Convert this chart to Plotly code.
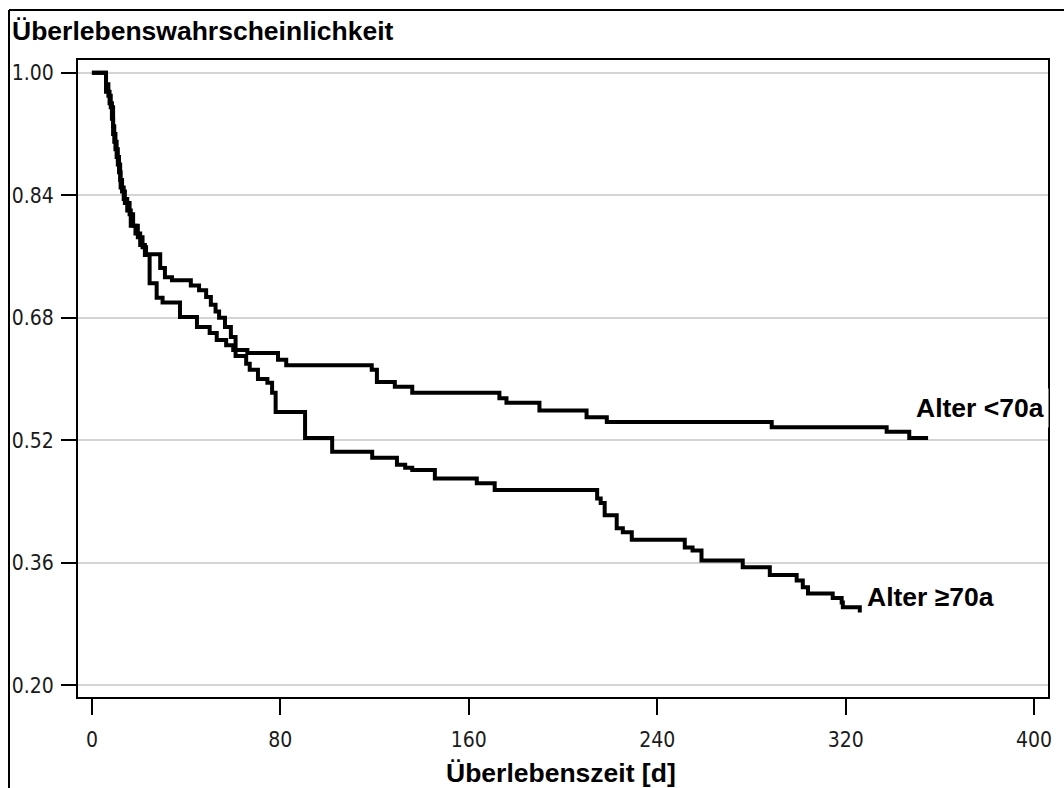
import plotly.graph_objects as go

# Kaplan-Meier step data (time in days, survival probability)
t_lt70 = [0, 6, 7, 8, 9, 9.5, 10.5, 11.5, 12.2, 13.5, 15, 16.5, 18.5, 20.5, 22.5, 24.5, 27.5, 30,
          37.4, 44.6, 50, 53, 57, 60, 66, 79, 82.5, 118.8, 121, 128.6, 136, 173, 176, 190, 210,
          218.6, 288.6, 337.4, 347, 355]
s_lt70 = [1.0, 0.985, 0.97, 0.955, 0.93, 0.91, 0.89, 0.87, 0.85, 0.835, 0.82, 0.80, 0.79, 0.775,
          0.762, 0.725, 0.706, 0.70, 0.681, 0.668, 0.66, 0.651, 0.644, 0.638, 0.634, 0.625, 0.618,
          0.612, 0.596, 0.59, 0.582, 0.575, 0.569, 0.559, 0.55, 0.544, 0.537, 0.531, 0.523, 0.523]

t_ge70 = [0, 6, 7.5, 8.5, 9, 10, 11, 12, 12.8, 14, 16, 17.5, 19.5, 21.5, 23, 29, 31, 34, 42, 45.5,
          48.5, 50.5, 52.5, 54, 56.5, 59, 61, 65.5, 67, 70.5, 74.5, 76.5, 78, 90.5, 102, 119, 129.5,
          133, 136, 145.6, 163.4, 171, 214.5, 216, 217.7, 222.8, 225.4, 229.2, 251.7, 255, 258.8,
          276.3, 287.8, 299.2, 301.8, 304, 314.5, 318.3, 318.8, 326]
s_ge70 = [1.0, 0.975, 0.96, 0.94, 0.92, 0.90, 0.88, 0.86, 0.845, 0.83, 0.815, 0.80, 0.785, 0.772,
          0.763, 0.745, 0.733, 0.729, 0.722, 0.716, 0.707, 0.697, 0.688, 0.68, 0.668, 0.655, 0.63,
          0.62, 0.612, 0.60, 0.595, 0.582, 0.557, 0.523, 0.505, 0.497, 0.488, 0.484, 0.481, 0.47,
          0.464, 0.455, 0.444, 0.438, 0.422, 0.405, 0.40, 0.39, 0.38, 0.376, 0.363, 0.354, 0.344,
          0.337, 0.328, 0.32, 0.314, 0.308, 0.302, 0.295]

y_ticks = [0.20, 0.36, 0.52, 0.68, 0.84, 1.00]
x_ticks = [0, 80, 160, 240, 320, 400]
label_lt70 = "Alter <70a"
label_ge70 = "Alter \u226570a"
y_title = "\u00dcberlebenswahrscheinlichkeit"
x_title = "\u00dcberlebenszeit [d]"

W, H = 1064, 788
L, R, T, B = 78, 16, 60, 91
pw, ph = W - L - R, H - T - B


def px(x):
    return (x - L) / pw


def py(y):
    return (H - B - y) / ph


fig = go.Figure()
for t, s in [(t_lt70, s_lt70), (t_ge70, s_ge70)]:
    fig.add_trace(go.Scatter(x=t, y=s, mode="lines",
                             line=dict(shape="hv", color="black", width=4),
                             showlegend=False, hoverinfo="skip"))

tickfont = dict(family="DejaVu Sans Condensed, Liberation Sans Narrow, Roboto Condensed, sans-serif",
                size=21, color="#1a1a1a")
boldfont = dict(family="Liberation Sans, Arial, sans-serif", size=26.5, color="black")

fig.update_layout(
    width=W, height=H,
    margin=dict(l=L, r=R, t=T, b=B, autoexpand=False),
    paper_bgcolor="white", plot_bgcolor="white",
    xaxis=dict(range=[-5.9, 405.9], tickvals=x_ticks, ticktext=[str(v) for v in x_ticks],
               showgrid=False, zeroline=False, showline=True, linecolor="black", linewidth=2,
               mirror=True, ticks="outside", ticklen=16, tickwidth=1.5, tickcolor="black",
               tickfont=tickfont, ticklabelstandoff=7, automargin=False),
    yaxis=dict(range=[0.1847, 1.0166], tickvals=y_ticks, ticktext=["%.2f" % v for v in y_ticks],
               showgrid=True, gridcolor="#d4d4d4", gridwidth=1.5, zeroline=False,
               showline=True, linecolor="black", linewidth=2, mirror=True,
               ticks="outside", ticklen=15, tickwidth=1.5, tickcolor="black",
               tickfont=tickfont, ticklabelstandoff=3, automargin=False),
)

fig.add_annotation(text="<b>%s</b>" % y_title, xref="paper", yref="paper",
                   x=px(10), y=py(31), xanchor="left", yanchor="middle",
                   showarrow=False, font=boldfont)
fig.add_annotation(text="<b>%s</b>" % x_title, xref="paper", yref="paper",
                   x=px(561), y=py(773), xanchor="center", yanchor="middle",
                   showarrow=False, font=boldfont)
fig.add_annotation(text="<b>%s</b>" % label_lt70, xref="paper", yref="paper",
                   x=px(911), y=py(408), xanchor="left", yanchor="middle",
                   showarrow=False, font=boldfont, bgcolor="white", borderpad=4)
fig.add_annotation(text="<b>%s</b>" % label_ge70, xref="paper", yref="paper",
                   x=px(864), y=py(597), xanchor="left", yanchor="middle",
                   showarrow=False, font=boldfont, borderpad=2)

# outer frame (top and left edges)
fig.add_shape(type="line", xref="paper", yref="paper", x0=px(9), x1=px(W + 5), y0=py(10), y1=py(10),
              line=dict(color="black", width=2))
fig.add_shape(type="line", xref="paper", yref="paper", x0=px(9), x1=px(9), y0=py(10), y1=py(H + 5),
              line=dict(color="black", width=2))

fig.write_html("out.html")
